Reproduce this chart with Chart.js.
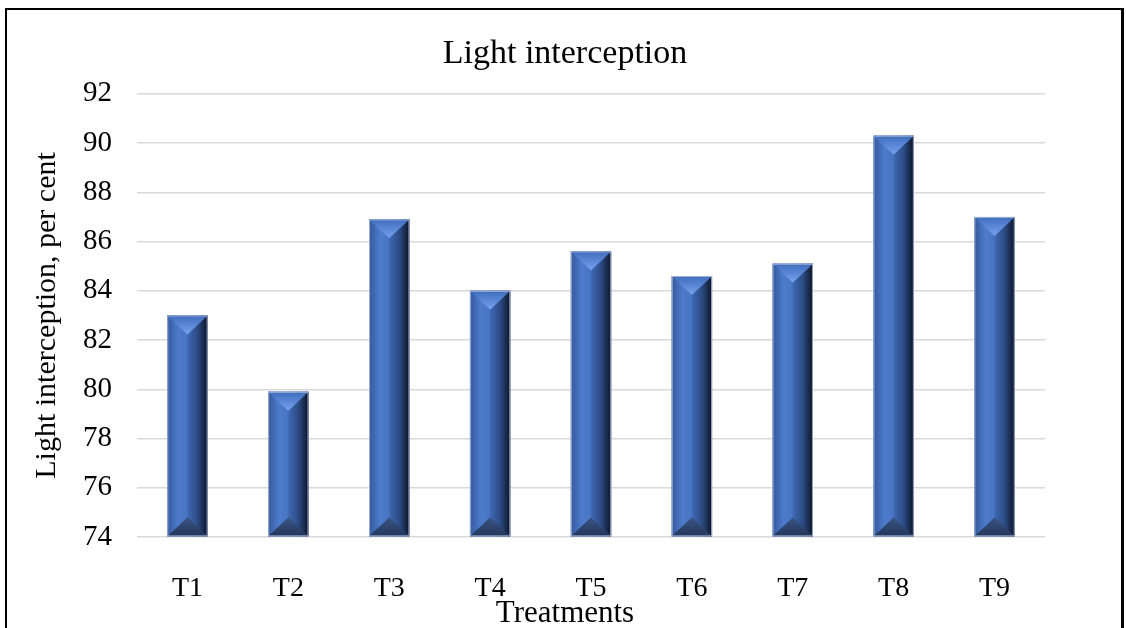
<!DOCTYPE html>
<html>
<head>
<meta charset="utf-8">
<title>Light interception</title>
<script src="https://cdn.jsdelivr.net/npm/chart.js@4.4.1/dist/chart.umd.min.js"></script>
<style>
  html, body { margin: 0; padding: 0; background: #ffffff; overflow: hidden; }
  #frame {
    position: absolute; left: 5px; top: 8px; width: 1119px; height: 700px;
    box-sizing: border-box; border: 2px solid #000; border-right-width: 3px;
  }
  #c { position: absolute; left: 0; top: 0; }
</style>
</head>
<body>
<div id="frame"></div>
<canvas id="c" width="1126" height="628"></canvas>
<script>
// Treatments and their light interception (%)
const treatments = ['T1', 'T2', 'T3', 'T4', 'T5', 'T6', 'T7', 'T8', 'T9'];
const lightInterception = [83.0, 79.9, 86.9, 84.0, 85.6, 84.6, 85.1, 90.3, 87.0];
const yTicks = [74, 76, 78, 80, 82, 84, 86, 88, 90, 92];
const axisMin = 74;
const axisMax = 92;

const serif = "'Liberation Serif', 'Times New Roman', serif";

// Paints each bar as a bevelled column: two side panels plus top/bottom facets
const bevelBars = {
  id: 'bevelBars',
  afterDatasetsDraw(chart) {
    const ctx = chart.ctx;
    chart.getDatasetMeta(0).data.forEach(bar => {
      const p = bar.getProps(['x', 'y', 'base', 'width'], true);
      const l = p.x - p.width / 2, r = p.x + p.width / 2;
      const top = Math.min(p.y, p.base), bot = Math.max(p.y, p.base);
      const d = p.width * 0.47;
      ctx.save();

      // left panel
      let g = ctx.createLinearGradient(l, 0, p.x, 0);
      g.addColorStop(0, '#35599c');
      g.addColorStop(0.55, '#4d7ccc');
      g.addColorStop(1, '#4774c2');
      ctx.fillStyle = g;
      ctx.fillRect(l, top, p.x - l, bot - top);

      // right panel
      g = ctx.createLinearGradient(p.x, 0, r, 0);
      g.addColorStop(0, '#3f69b4');
      g.addColorStop(0.5, '#2c4b84');
      g.addColorStop(1, '#0c1426');
      ctx.fillStyle = g;
      ctx.fillRect(p.x, top, r - p.x, bot - top);

      // top facet
      g = ctx.createLinearGradient(0, top, 0, top + d);
      g.addColorStop(0, '#3f6cbc');
      g.addColorStop(1, '#74a3f0');
      ctx.fillStyle = g;
      ctx.beginPath();
      ctx.moveTo(l, top); ctx.lineTo(r, top); ctx.lineTo(p.x, top + d); ctx.closePath();
      ctx.fill();

      // bottom facet
      g = ctx.createLinearGradient(0, bot, 0, bot - d);
      g.addColorStop(0, '#22365c');
      g.addColorStop(1, '#3a5482');
      ctx.fillStyle = g;
      ctx.beginPath();
      ctx.moveTo(l, bot); ctx.lineTo(r, bot); ctx.lineTo(p.x, bot - d); ctx.closePath();
      ctx.fill();

      // thin light edge
      ctx.strokeStyle = 'rgba(170,185,215,0.9)';
      ctx.lineWidth = 1;
      ctx.strokeRect(l + 0.5, top + 0.5, r - l - 1, bot - top - 1);
      ctx.restore();
    });
  }
};

new Chart(document.getElementById('c'), {
  type: 'bar',
  data: {
    labels: treatments,
    datasets: [{
      label: 'Light interception',
      data: lightInterception,
      base: axisMin,
      backgroundColor: '#4472c4',
      borderWidth: 0,
      barPercentage: 0.4,
      categoryPercentage: 1.0
    }]
  },
  options: {
    responsive: false,
    animation: false,
    devicePixelRatio: 1,
    layout: { padding: { left: 4, right: 0, top: 0, bottom: 0 } },
    plugins: {
      legend: { display: false },
      tooltip: { enabled: false },
      title: {
        display: true,
        text: 'Light interception',
        color: '#000',
        font: { family: serif, size: 34, weight: 'normal', lineHeight: 1.2 },
        padding: { top: 34, bottom: 19 }
      },
      subtitle: {
        display: true,
        position: 'bottom',
        text: 'Treatments',
        color: '#000',
        font: { family: serif, size: 31, weight: 'normal', lineHeight: 0.9 },
        padding: { top: 0, bottom: 0 }
      }
    },
    scales: {
      x: {
        grid: { display: false, drawTicks: false },
        border: { display: false },
        ticks: {
          color: '#000',
          font: { family: serif, size: 28 },
          padding: 35
        },
        afterFit(s) { s.height = 63; }
      },
      y: {
        min: axisMin,
        max: axisMax,
        afterBuildTicks(s) { s.ticks = yTicks.map(v => ({ value: v })); },
        grid: { color: '#d9d9d9', lineWidth: 1.5, drawTicks: false },
        border: { display: false },
        ticks: {
          color: '#000',
          font: { family: serif, size: 29 },
          padding: 25
        },
        title: {
          display: true,
          text: 'Light interception, per cent',
          color: '#000',
          font: { family: serif, size: 30 },
          padding: { top: 25, bottom: 0 }
        },
        afterFit(s) { s.width = 133; }
      },
      yRight: {
        position: 'right',
        min: axisMin,
        max: axisMax,
        grid: { display: false, drawTicks: false },
        border: { display: false },
        ticks: { display: false },
        afterFit(s) { s.width = 81; }
      }
    }
  },
  plugins: [bevelBars]
});
</script>
</body>
</html>
